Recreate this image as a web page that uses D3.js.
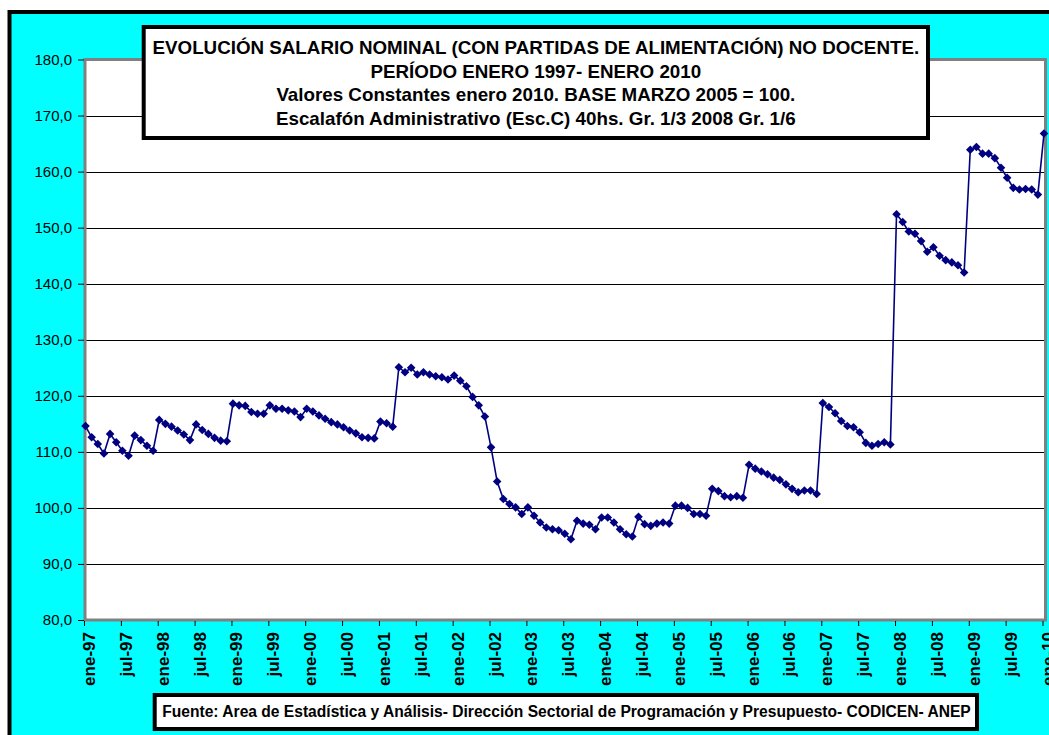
<!DOCTYPE html>
<html>
<head>
<meta charset="utf-8">
<script src="https://cdn.jsdelivr.net/npm/d3@7"></script>
<style>
  html, body { margin: 0; padding: 0; background: #fff; }
  svg { display: block; font-family: "Liberation Sans", Arial, sans-serif; }
</style>
</head>
<body>
<svg id="chart" width="1049" height="735"></svg>
<script>
// Monthly index, enero 1997 – enero 2010 (157 months)
const salario = [
  114.6, 112.6, 111.4, 109.7, 113.2, 111.7, 110.2, 109.3, 112.9, 112.1, 111.1, 110.2, // 1997
  115.7, 115.0, 114.5, 113.8, 113.1, 112.1, 114.9, 113.9, 113.2, 112.5, 112.0, 111.9, // 1998
  118.6, 118.3, 118.2, 117.1, 116.8, 116.8, 118.3, 117.7, 117.7, 117.4, 117.2, 116.2, // 1999
  117.7, 117.2, 116.5, 115.9, 115.3, 114.9, 114.4, 113.8, 113.3, 112.6, 112.5, 112.4, // 2000
  115.4, 115.1, 114.5, 125.1, 124.2, 125.0, 123.8, 124.2, 123.8, 123.5, 123.3, 122.9, // 2001
  123.6, 122.7, 121.7, 119.8, 118.3, 116.3, 110.8, 104.7, 101.6, 100.7, 100.1, 98.9,  // 2002
  100.1, 98.6, 97.4, 96.5, 96.2, 96.0, 95.4, 94.4, 97.7, 97.2, 97.0, 96.2,           // 2003
  98.3, 98.3, 97.4, 96.2, 95.3, 94.9, 98.4, 97.1, 96.8, 97.2, 97.4, 97.2,            // 2004
  100.4, 100.4, 100.0, 98.9, 98.9, 98.6, 103.4, 103.0, 102.1, 101.9, 102.1, 101.8,   // 2005
  107.7, 107.0, 106.5, 106.0, 105.4, 105.0, 104.2, 103.4, 102.8, 103.1, 103.1, 102.5, // 2006
  118.7, 118.0, 116.9, 115.5, 114.6, 114.4, 113.5, 111.6, 111.1, 111.4, 111.7, 111.3, // 2007
  152.4, 151.0, 149.3, 148.9, 147.6, 145.7, 146.5, 145.0, 144.2, 143.8, 143.3, 142.0, // 2008
  163.9, 164.4, 163.2, 163.2, 162.4, 160.7, 158.9, 157.1, 156.8, 156.9, 156.8, 155.9, // 2009
  166.8                                                                               // 2010
];

const tickLabels = [
  "ene-97", "jul-97", "ene-98", "jul-98", "ene-99", "jul-99", "ene-00", "jul-00",
  "ene-01", "jul-01", "ene-02", "jul-02", "ene-03", "jul-03", "ene-04", "jul-04",
  "ene-05", "jul-05", "ene-06", "jul-06", "ene-07", "jul-07", "ene-08", "jul-08",
  "ene-09", "jul-09", "ene-10"
];
const monthsPerTick = 6;

const yTicks = [80, 90, 100, 110, 120, 130, 140, 150, 160, 170, 180];

const titleLines = [
  "EVOLUCIÓN SALARIO NOMINAL (CON PARTIDAS DE ALIMENTACIÓN) NO DOCENTE.",
  "PERÍODO ENERO 1997- ENERO 2010",
  "Valores Constantes enero 2010. BASE MARZO 2005 = 100.",
  "Escalafón Administrativo (Esc.C) 40hs. Gr. 1/3 2008 Gr. 1/6"
];
const fuente = "Fuente: Area de Estadística y Análisis- Dirección Sectorial de Programación y Presupuesto- CODICEN- ANEP";

const svg = d3.select("#chart");

// chart area background with heavy black frame
svg.append("rect")
  .attr("x", 9.5).attr("y", 12)
  .attr("width", 1060).attr("height", 740)
  .attr("fill", "#00FFFF")
  .attr("stroke", "#000").attr("stroke-width", 4);

const plot = { left: 85, right: 1045.5, top: 59.5, bottom: 620 };

const x = d3.scaleLinear().domain([0, salario.length - 1]).range([plot.left + 0.5, plot.right - 1.5]);
const y = d3.scaleLinear().domain([80, 180]).range([plot.bottom, plot.top]);

// plot area
svg.append("rect")
  .attr("x", plot.left).attr("y", plot.top)
  .attr("width", plot.right - plot.left).attr("height", plot.bottom - plot.top)
  .attr("fill", "#fff");

// horizontal gridlines
svg.append("g")
  .selectAll("line")
  .data(yTicks.filter(v => v > 80 && v < 180))
  .join("line")
  .attr("x1", plot.left).attr("x2", plot.right)
  .attr("y1", d => Math.round(y(d)) + 0.5).attr("y2", d => Math.round(y(d)) + 0.5)
  .attr("stroke", "#000").attr("stroke-width", 1);

// plot area border
svg.append("rect")
  .attr("x", plot.left).attr("y", plot.top)
  .attr("width", plot.right - plot.left).attr("height", plot.bottom - plot.top)
  .attr("fill", "none")
  .attr("stroke", "#808080").attr("stroke-width", 3);

// y axis
const fmt = v => d3.format(".1f")(v).replace(".", ",");
const yAxis = d3.axisLeft(y).tickValues(yTicks).tickFormat(fmt).tickSize(6).tickPadding(6);
const gy = svg.append("g").attr("transform", `translate(${plot.left - 1},0)`).call(yAxis);
gy.select(".domain").remove();
gy.selectAll(".tick line").attr("stroke", "#000");
gy.selectAll(".tick text")
  .attr("font-family", "'Liberation Sans', Arial, sans-serif")
  .attr("font-size", 15).attr("fill", "#000");

// x axis: a tick every six months, vertical bold labels
const tickIdx = tickLabels.map((_, i) => i * monthsPerTick);
const xAxis = d3.axisBottom(x).tickValues(tickIdx).tickFormat((d, i) => tickLabels[i]).tickSize(5);
const gx = svg.append("g").attr("transform", `translate(-1.5,${plot.bottom + 1})`).call(xAxis);
gx.select(".domain").remove();
gx.selectAll(".tick line").attr("stroke", "#000");
gx.selectAll(".tick text")
  .attr("font-family", "'Liberation Sans', Arial, sans-serif")
  .attr("font-size", 17).attr("font-weight", "bold").attr("fill", "#000")
  .attr("text-anchor", "end")
  .attr("transform", "translate(10.5,11) rotate(-90)")
  .attr("x", 0).attr("y", 0).attr("dy", 0);

// series line and diamond markers
svg.append("path")
  .datum(salario)
  .attr("d", d3.line().x((d, i) => x(i)).y(d => y(d)))
  .attr("fill", "none")
  .attr("stroke", "#000080").attr("stroke-width", 1.6);

const r = 4.3;
svg.append("g")
  .selectAll("path")
  .data(salario)
  .join("path")
  .attr("transform", (d, i) => `translate(${x(i)},${y(d)})`)
  .attr("d", `M0,${-r}L${r},0L0,${r}L${-r},0Z`)
  .attr("fill", "#000080");

// fit a text element's size so its width matches a target
function fitText(sel, target) {
  const w = sel.node().getComputedTextLength();
  const fs = parseFloat(sel.attr("font-size"));
  return fs * target / w;
}

// title box
const tb = { x: 143.7, y: 27, x2: 928, y2: 138 };
svg.append("rect")
  .attr("x", tb.x).attr("y", tb.y)
  .attr("width", tb.x2 - tb.x).attr("height", tb.y2 - tb.y)
  .attr("fill", "#fff").attr("stroke", "#000").attr("stroke-width", 4);

const titleG = svg.append("g")
  .attr("font-weight", "bold").attr("text-anchor", "middle").attr("fill", "#000");
const tLines = titleG.selectAll("text")
  .data(titleLines)
  .join("text")
  .attr("x", (tb.x + tb.x2) / 2)
  .attr("y", (d, i) => 54 + i * 23.5)
  .attr("font-size", 16)
  .text(d => d);
const tfs = fitText(d3.select(tLines.nodes()[0]), 767);
tLines.attr("font-size", tfs);

// source box
const fb = { x: 154.7, y: 695, x2: 977, y2: 729 };
svg.append("rect")
  .attr("x", fb.x).attr("y", fb.y)
  .attr("width", fb.x2 - fb.x).attr("height", fb.y2 - fb.y)
  .attr("fill", "#fff").attr("stroke", "#000").attr("stroke-width", 4);
const ft = svg.append("text")
  .attr("x", 566.5).attr("y", 717)
  .attr("text-anchor", "middle")
  .attr("font-weight", "bold").attr("font-size", 14)
  .text(fuente);
ft.attr("font-size", fitText(ft, 809));
</script>
</body>
</html>
